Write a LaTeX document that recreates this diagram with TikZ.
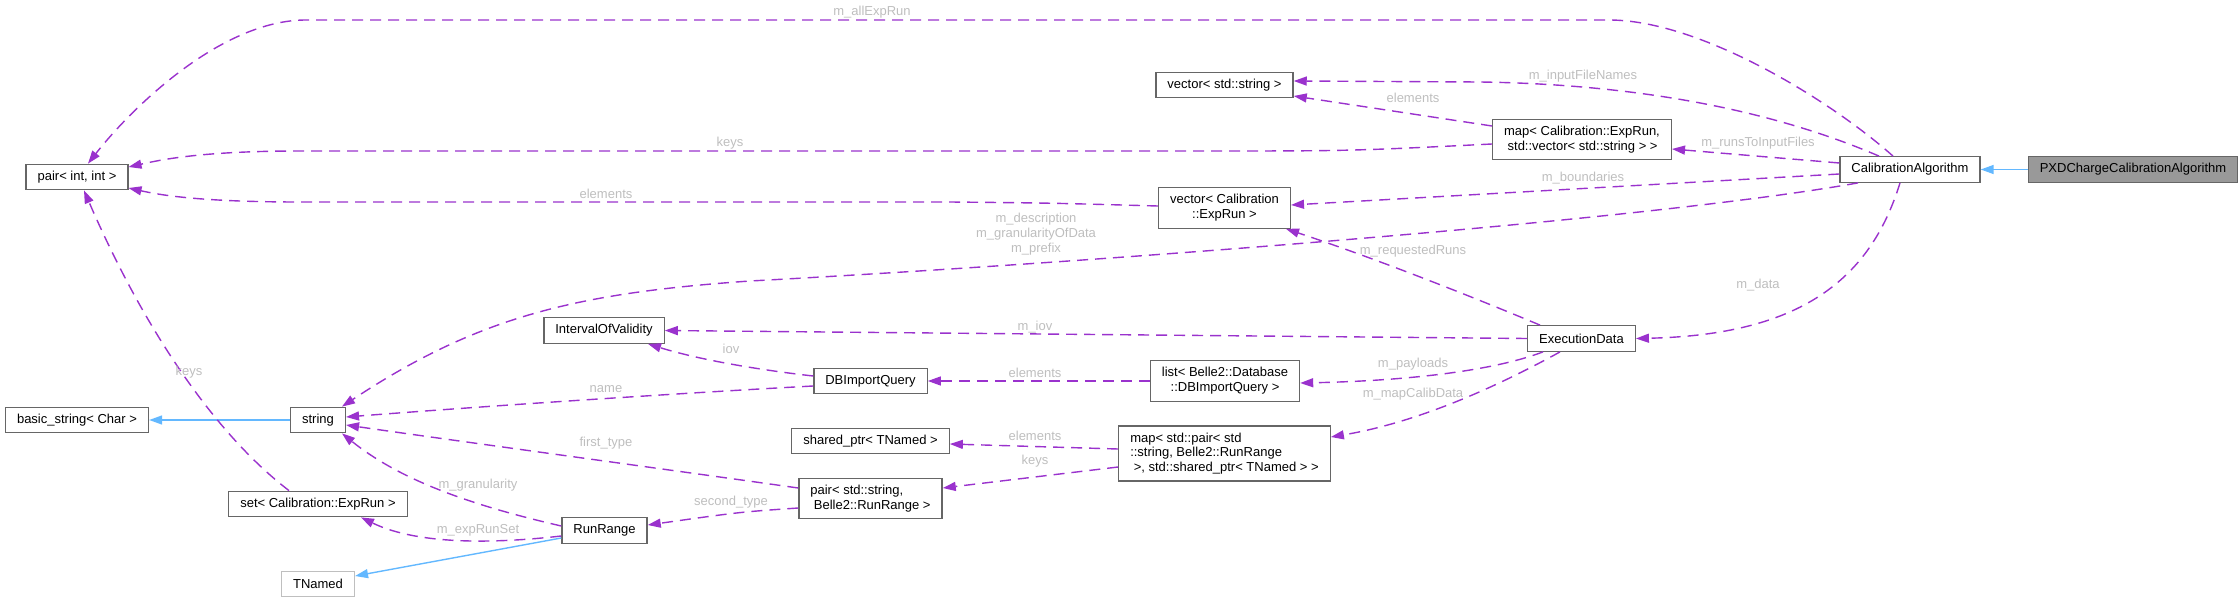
\documentclass[tikz,border=0pt]{standalone}
\usepackage{fontspec}
\setmainfont{Liberation Sans}
\usetikzlibrary{arrows.meta}
\definecolor{useedge}{HTML}{9A32CD}
\definecolor{inhedge}{HTML}{63B8FF}
\definecolor{boxline}{HTML}{666666}
\definecolor{lblgray}{HTML}{BEBEBE}
\definecolor{curfill}{HTML}{999999}
\definecolor{extline}{HTML}{BFBFBF}

\begin{document}
\begin{tikzpicture}[x=1pt,y=-1pt,
  >={Triangle[length=13pt,width=9pt]},
  font=\fontsize{13}{14.8}\selectfont,
  cls/.style={draw=boxline,line width=1.3pt,fill=white,inner xsep=11.5pt,inner ysep=2pt,minimum height=25.5pt},
  twoline/.style={cls,minimum height=40.5pt},
  uses/.style={->,draw=useedge,line width=1.4pt,dash pattern=on 11pt off 7pt},
  inherit/.style={->,draw=inhedge,line width=1.4pt},
  lbl/.style={text=lblgray,inner sep=0pt}]
  \useasboundingbox (0,0) rectangle (2239,602);

  % Classes
  \node[cls,fill=curfill] (pxd) at (2133,169.5) {PXDChargeCalibrationAlgorithm};
  \node[cls] (calalg) at (1910,169.5) {CalibrationAlgorithm};
  \node[cls] (pairii) at (77,177) {pair< int, int >};
  \node[cls] (vecstr) at (1224.5,85) {vector< std::string >};
  \node[twoline,align=left] (mapexp) at (1582,139.5) {map< Calibration::ExpRun,\\\hspace*{3.5pt}std::vector< std::string > >};
  \node[twoline,align=center] (vecexp) at (1224.5,208) {vector< Calibration\\::ExpRun >};
  \node[cls] (iov) at (604,330.5) {IntervalOfValidity};
  \node[cls] (execdata) at (1581.5,338.5) {ExecutionData};
  \node[cls] (basicstr) at (77,420) {basic\_string< Char >};
  \node[cls] (str) at (318,420) {string};
  \node[cls] (dbq) at (870.5,381) {DBImportQuery};
  \node[twoline,align=center] (listdb) at (1225,381) {list< Belle2::Database\\::DBImportQuery >};
  \node[cls] (shptr) at (870.5,441) {shared\_ptr< TNamed >};
  \node[cls,align=left,minimum height=55pt] (mapcal) at (1224.5,453.5) {map< std::pair< std\\::string, Belle2::RunRange\\\hspace*{3.5pt}>, std::shared\_ptr< TNamed > >};
  \node[twoline,align=left] (pairstr) at (870.5,498.5) {pair< std::string,\\\hspace*{3.5pt}Belle2::RunRange >};
  \node[cls] (setexp) at (318,504) {set< Calibration::ExpRun >};
  \node[cls] (runrange) at (604.5,530.5) {RunRange};
  \node[cls,draw=extline] (tnamed) at (318,584) {TNamed};

  % Inheritance
  \draw[inherit] (pxd.west) -- (calalg.east);
  \draw[inherit] (str.west) -- (basicstr.east);
  \draw[inherit] ([yshift=-7.5pt]runrange.west) -- ([yshift=8pt]tnamed.east);

  % Members of CalibrationAlgorithm
  \draw[uses] ([xshift=-17pt]calalg.north) .. controls (1830,100) and (1700,20) .. (1609,20)
    -- (306,20) .. controls (220,20) and (130,110) .. ([xshift=11pt]pairii.north);
  \draw[uses] ([xshift=-31pt]calalg.north) .. controls (1760,105) and (1620,84) .. (1480,82)
    -- ([yshift=4pt]vecstr.east);
  \draw[uses] ([yshift=6.5pt]calalg.west) -- ([yshift=-9.5pt]mapexp.east);
  \draw[uses] ([yshift=-4.5pt]calalg.west) -- ([yshift=3pt]vecexp.east);
  \draw[uses] ([xshift=-52pt]calalg.south) .. controls (1650,220) and (1100,262) .. (750,281)
    .. controls (580,293) and (480,315) .. ([xshift=24pt]str.north);
  \draw[uses] ([xshift=-10pt]calalg.south) .. controls (1870,280) and (1800,335) .. (execdata.east);

  % Containers
  \draw[uses] ([yshift=-4.5pt]mapexp.west) .. controls (1350,151) .. (1200,151)
    -- (300,151) .. controls (200,151) and (160,160) .. ([yshift=10pt]pairii.east);
  \draw[uses] ([yshift=13.5pt]mapexp.west) -- ([yshift=-11pt]vecstr.east);
  \draw[uses] ([yshift=2pt]vecexp.west) .. controls (1050,203) .. (950,202)
    -- (300,202) .. controls (200,202) and (160,195) .. ([yshift=-11pt]pairii.east);
  \draw[uses] (listdb.west) -- (dbq.east);
  \draw[uses] ([yshift=4.5pt]mapcal.west) -- ([yshift=-3pt]shptr.east);
  \draw[uses] ([yshift=-13.5pt]mapcal.west) -- ([yshift=10.5pt]pairstr.east);
  \draw[uses] ([xshift=-29pt]setexp.north) .. controls (210,430) and (140,320) .. ([xshift=7pt]pairii.south);

  % Members of ExecutionData
  \draw[uses] ([xshift=-41.5pt]execdata.north) .. controls (1480,300) and (1380,260) .. ([xshift=61.5pt]vecexp.south);
  \draw[uses] (execdata.west) -- (iov.east);
  \draw[uses] ([xshift=-38.5pt]execdata.south) .. controls (1490,372) and (1400,381) .. ([yshift=-2pt]listdb.east);
  \draw[uses] ([xshift=-21.5pt]execdata.south) .. controls (1500,385) and (1420,422) .. ([yshift=16.5pt]mapcal.east);

  % DBImportQuery, pair and RunRange
  \draw[uses] ([yshift=5pt]dbq.west) .. controls (760,370) and (700,360) .. ([xshift=44pt]iov.south);
  \draw[uses] ([yshift=-5pt]dbq.west) .. controls (700,392) and (500,405) .. ([yshift=3pt]str.east);
  \draw[uses] ([yshift=10.5pt]pairstr.west) .. controls (700,474) and (450,440) .. ([yshift=-5pt]str.east);
  \draw[uses] ([yshift=-9.5pt]pairstr.west) .. controls (740,512) .. ([yshift=5.5pt]runrange.east);
  \draw[uses] ([yshift=4.5pt]runrange.west) .. controls (470,505) and (400,480) .. ([xshift=24pt]str.south);
  \draw[uses] ([yshift=-5.5pt]runrange.west) .. controls (500,543) and (420,546) .. ([xshift=43pt]setexp.south);

  % Labels
  \node[lbl] (l-allexp) at (872,12) {m\_allExpRun};
  \node[lbl] (l-input) at (1583,76) {m\_inputFileNames};
  \node[lbl] (l-elemvs) at (1413,98) {elements};
  \node[lbl] (l-keysmap) at (730,143) {keys};
  \node[lbl] (l-runs) at (1758,143) {m\_runsToInputFiles};
  \node[lbl] (l-bound) at (1583,178) {m\_boundaries};
  \node[lbl] (l-elemve) at (606,194) {elements};
  \node[lbl,align=center] (l-descr) at (1036,234) {m\_description\\m\_granularityOfData\\m\_prefix};
  \node[lbl] (l-req) at (1413,251) {m\_requestedRuns};
  \node[lbl] (l-data) at (1758,285) {m\_data};
  \node[lbl] (l-miov) at (1035,327) {m\_iov};
  \node[lbl] (l-iov) at (731,349) {iov};
  \node[lbl] (l-keysset) at (189,372) {keys};
  \node[lbl] (l-payl) at (1413,364) {m\_payloads};
  \node[lbl] (l-elemdb) at (1035,373) {elements};
  \node[lbl] (l-name) at (606,389) {name};
  \node[lbl] (l-calib) at (1413,394) {m\_mapCalibData};
  \node[lbl] (l-elemsp) at (1035,436) {elements};
  \node[lbl] (l-first) at (606,443) {first\_type};
  \node[lbl] (l-keyspr) at (1035,461) {keys};
  \node[lbl] (l-gran) at (478,485) {m\_granularity};
  \node[lbl] (l-second) at (731,502) {second\_type};
  \node[lbl] (l-expset) at (478,530) {m\_expRunSet};
\end{tikzpicture}
\end{document}
